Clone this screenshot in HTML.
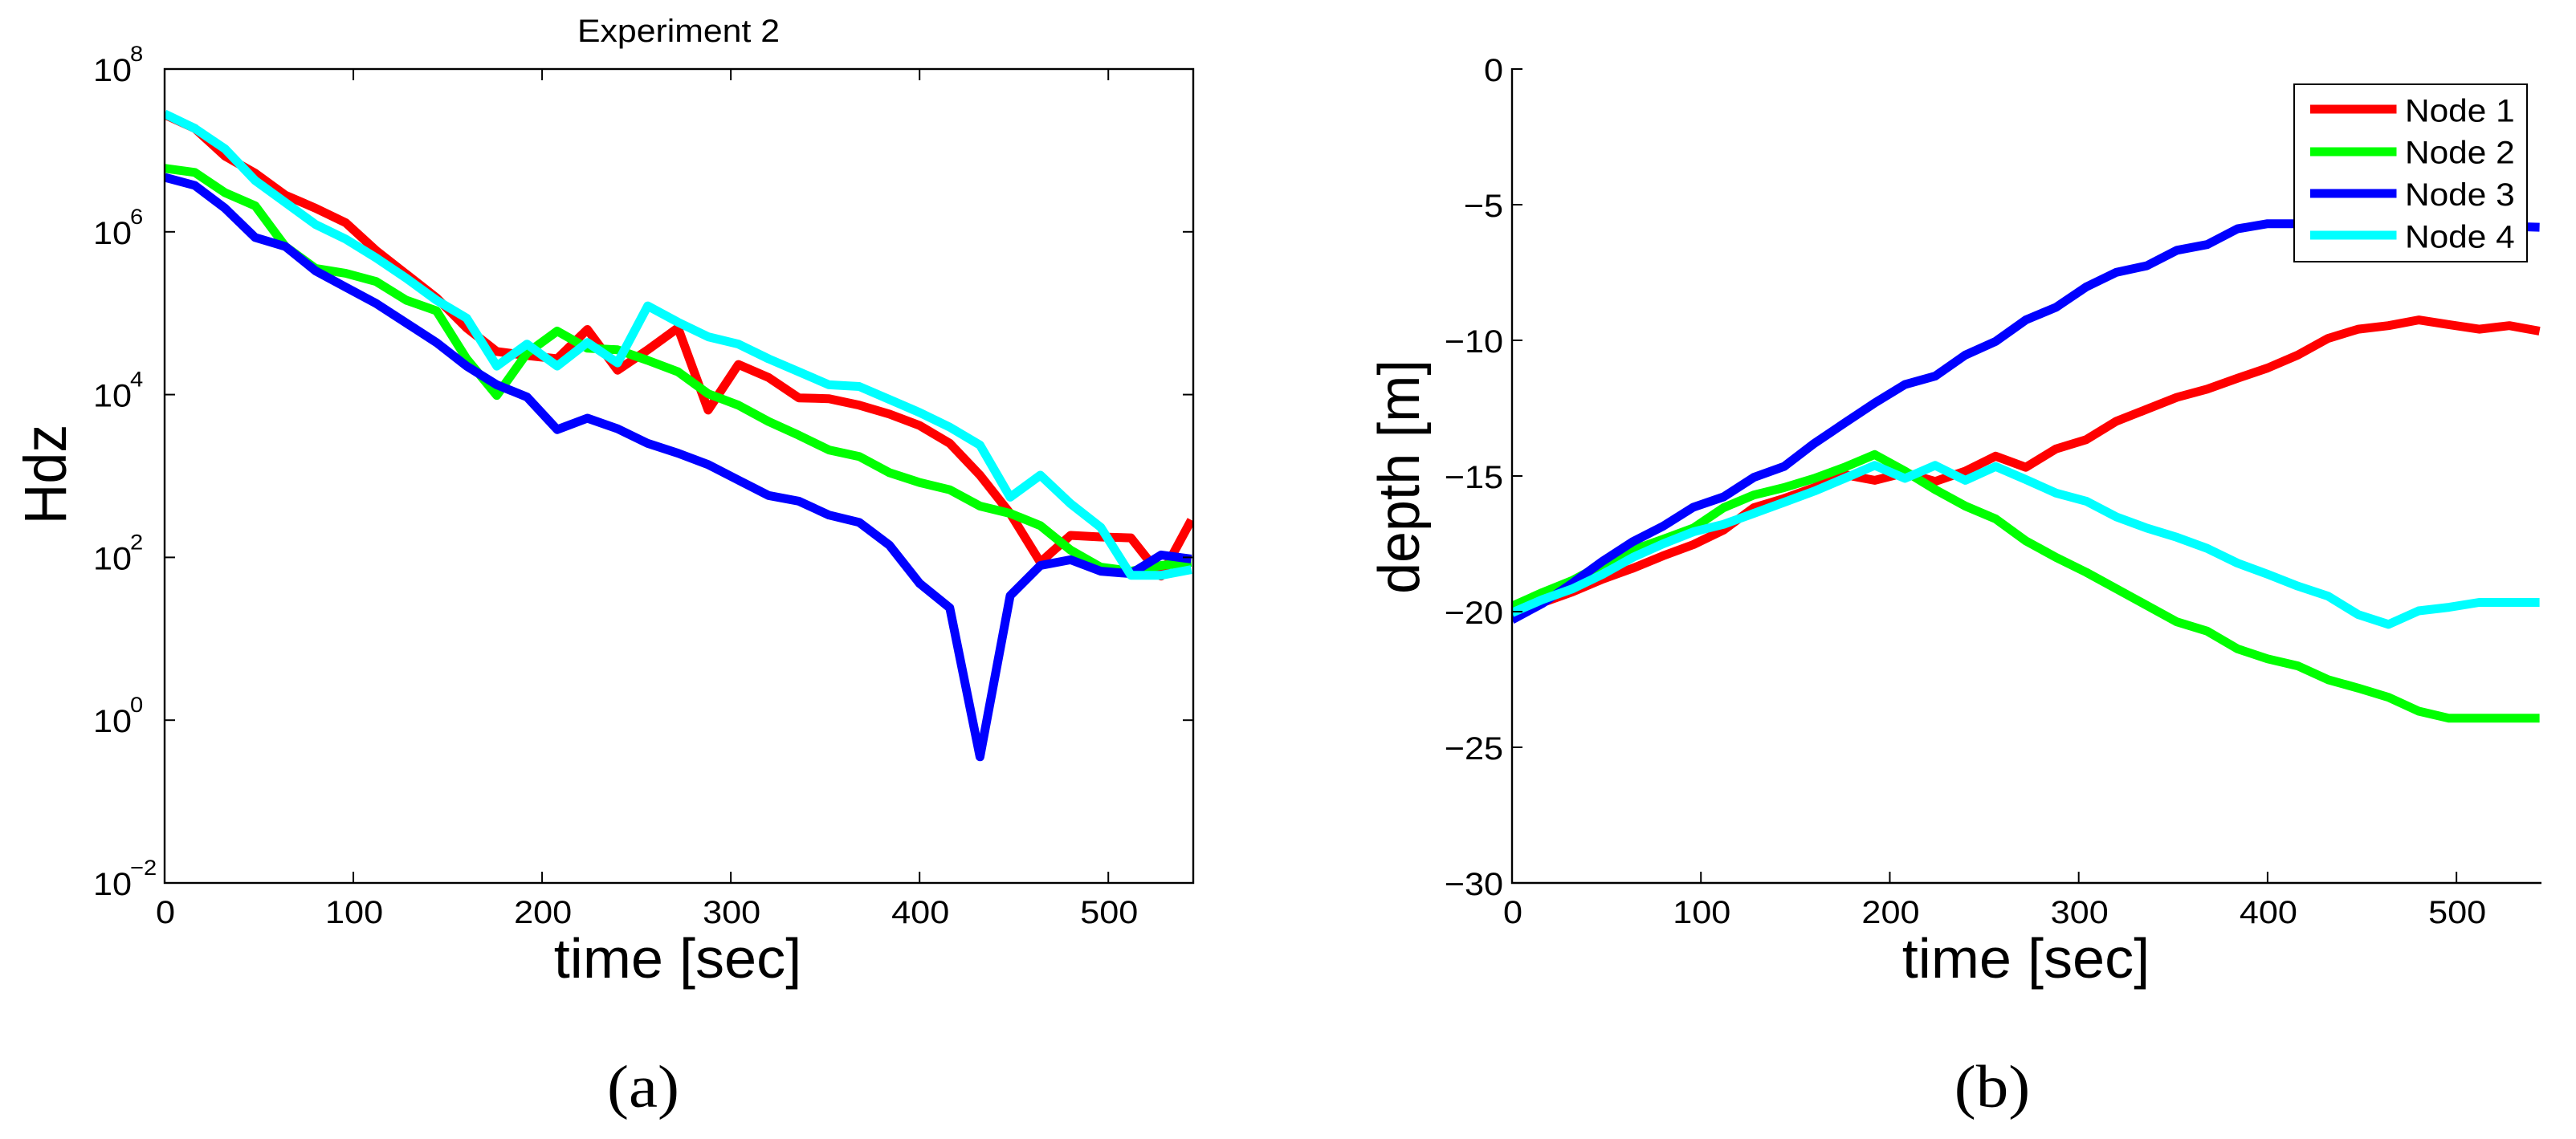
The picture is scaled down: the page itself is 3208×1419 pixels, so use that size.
<!DOCTYPE html>
<html lang="en">
<head>
<meta charset="utf-8">
<title>Experiment 2 - Hdz and depth</title>
<style>
html,body{margin:0;padding:0;background:#fff;}
svg{display:block;}
text{font-family:"Liberation Sans",sans-serif;fill:#000;}
.serif{font-family:"Liberation Serif",serif;}
</style>
</head>
<body>
<svg id="fig" xmlns="http://www.w3.org/2000/svg" width="3208" height="1419" viewBox="0 0 3208 1419">
  <rect width="3208" height="1419" fill="#fff"/>
  <defs>
    <clipPath id="clipA"><rect x="205" y="86" width="1281" height="1014"/></clipPath>
    <clipPath id="clipB"><rect x="1883" y="86" width="1282" height="1014"/></clipPath>
  </defs>
  <g id="panelA">
    <g id="linesA" clip-path="url(#clipA)"></g>
    <rect x="205" y="86" width="1281" height="1014" fill="none" stroke="#000" stroke-width="2.4"/>
    <g id="ticksA"></g>
    <text transform="translate(845,52) scale(1.07,1)" text-anchor="middle" font-size="40">Experiment 2</text>
    <text transform="translate(82,591) scale(1.06,1) rotate(-90)" text-anchor="middle" font-size="70">Hdz</text>
    <text transform="translate(844,1218) scale(1.03,1)" text-anchor="middle" font-size="70">time [sec]</text>
    <text class="serif" transform="translate(801,1379) scale(1.08,1)" text-anchor="middle" font-size="75">(a)</text>
  </g>
  <g id="panelB">
    <g id="linesB" clip-path="url(#clipB)"></g>
    <line x1="1883" y1="85" x2="1883" y2="1101" stroke="#000" stroke-width="2.4"/>
    <line x1="1882" y1="1100" x2="3165" y2="1100" stroke="#000" stroke-width="2.4"/>
    <g id="ticksB"></g>
    <text transform="translate(1767,594) scale(1.04,1) rotate(-90)" text-anchor="middle" font-size="70">depth [m]</text>
    <text transform="translate(2523,1218) scale(1.03,1)" text-anchor="middle" font-size="70">time [sec]</text>
    <text class="serif" transform="translate(2481,1379) scale(1.08,1)" text-anchor="middle" font-size="75">(b)</text>
    <g>
      <rect x="2857" y="105" width="290" height="221" fill="#fff" stroke="#000" stroke-width="2"/>
      <g>
        <line x1="2877" y1="136" x2="2984.5" y2="136" stroke="#ff0000" stroke-width="11"/>
        <text transform="translate(2995,151.5) scale(1.06,1)" font-size="40">Node 1</text>
      </g>
      <g>
        <line x1="2877" y1="189" x2="2984.5" y2="189" stroke="#00ff00" stroke-width="11"/>
        <text transform="translate(2995,203.5) scale(1.06,1)" font-size="40">Node 2</text>
      </g>
      <g>
        <line x1="2877" y1="241" x2="2984.5" y2="241" stroke="#0000ff" stroke-width="11"/>
        <text transform="translate(2995,256) scale(1.06,1)" font-size="40">Node 3</text>
      </g>
      <g>
        <line x1="2877" y1="293" x2="2984.5" y2="293" stroke="#00ffff" stroke-width="11"/>
        <text transform="translate(2995,308.5) scale(1.06,1)" font-size="40">Node 4</text>
      </g>
    </g>
  </g>
</svg>
<script>
// Shared time base (seconds)
const timeSec = [0,16,32,48,64,80,96,112,128,144,160,176,192,208,224,240,256,272,288,304,320,336,352,368,384,400,416,432,448,464,480,496,512,528,544];

// Panel (a): log10(Hdz) for each node
const hdzLogNode1 = [7.44,7.27,6.93,6.72,6.45,6.29,6.11,5.77,5.48,5.19,4.82,4.53,4.48,4.44,4.80,4.30,4.55,4.82,3.81,4.37,4.21,3.96,3.95,3.87,3.76,3.62,3.40,3.01,2.54,1.94,2.27,2.25,2.24,1.77,2.46];
const hdzLogNode2 = [6.78,6.73,6.48,6.32,5.82,5.55,5.49,5.39,5.16,5.03,4.44,3.99,4.51,4.78,4.57,4.55,4.42,4.28,4.01,3.87,3.67,3.50,3.32,3.24,3.04,2.92,2.83,2.63,2.54,2.39,2.09,1.88,1.83,1.90,1.94];
const hdzLogNode3 = [6.67,6.57,6.29,5.93,5.82,5.52,5.32,5.12,4.88,4.64,4.35,4.12,3.97,3.57,3.71,3.58,3.40,3.28,3.14,2.95,2.76,2.69,2.52,2.43,2.15,1.68,1.38,-0.45,1.53,1.90,1.97,1.83,1.80,2.03,1.98];
const hdzLogNode4 = [7.45,7.27,7.02,6.63,6.36,6.09,5.91,5.68,5.43,5.16,4.94,4.35,4.62,4.35,4.64,4.39,5.09,4.89,4.71,4.62,4.44,4.28,4.12,4.10,3.94,3.78,3.60,3.38,2.74,3.01,2.66,2.37,1.78,1.78,1.85];

// Panel (b): depth in metres for each node
const depthNode1 = [-20.0,-19.67,-19.27,-18.8,-18.4,-17.94,-17.53,-16.99,-16.17,-15.83,-15.43,-14.95,-15.16,-14.88,-15.2,-14.82,-14.27,-14.68,-14.0,-13.66,-12.98,-12.54,-12.1,-11.8,-11.4,-11.02,-10.54,-9.93,-9.59,-9.46,-9.25,-9.42,-9.59,-9.46,-9.66];
const depthNode2 = [-19.8,-19.3,-18.85,-18.25,-17.73,-17.33,-16.92,-16.17,-15.7,-15.43,-15.09,-14.68,-14.21,-14.82,-15.5,-16.11,-16.58,-17.39,-18.0,-18.55,-19.16,-19.77,-20.38,-20.72,-21.37,-21.74,-22.0,-22.51,-22.82,-23.16,-23.67,-23.93,-23.93,-23.93,-23.93];
const depthNode3 = [-20.3,-19.7,-18.95,-18.14,-17.42,-16.85,-16.15,-15.77,-15.05,-14.65,-13.8,-13.05,-12.31,-11.63,-11.32,-10.54,-10.04,-9.25,-8.78,-8.03,-7.49,-7.25,-6.68,-6.47,-5.89,-5.7,-5.7,-5.7,-5.7,-5.72,-5.75,-5.75,-5.78,-5.8,-5.83];
const depthNode4 = [-20.04,-19.56,-19.16,-18.62,-18.0,-17.5,-17.06,-16.78,-16.38,-15.97,-15.56,-15.09,-14.61,-15.09,-14.61,-15.16,-14.65,-15.13,-15.63,-15.93,-16.51,-16.92,-17.26,-17.67,-18.21,-18.62,-19.06,-19.43,-20.11,-20.47,-19.97,-19.84,-19.66,-19.66,-19.66];

// Tick labels
const xTicks = [0,100,200,300,400,500];
const hdzTickExponents = [8,6,4,2,0,-2];
const depthTicks = [0,-5,-10,-15,-20,-25,-30];

// Axis functions
const NS = 'http://www.w3.org/2000/svg';
const xMax = 545;
const xA = t => 205 + t * (1486 - 205) / xMax;
const xB = t => 1883 + t * (3165 - 1883) / xMax;
const yA = e => 86 + (8 - e) * (1100 - 86) / 10;
const yB = d => 86 + (0 - d) * (1100 - 86) / 30;
const fmt = v => String(v).replace('-', '\u2212');

function svgEl(tag, attrs) {
  const node = document.createElementNS(NS, tag);
  for (const k in attrs) node.setAttribute(k, attrs[k]);
  return node;
}

function addLine(parent, xs, ys, color, fx, fy, label) {
  let d = '';
  xs.forEach((x, i) => { d += (i ? 'L' : 'M') + fx(x).toFixed(1) + ' ' + fy(ys[i]).toFixed(1); });
  const el = svgEl('path', {d: d, fill: 'none', stroke: color, 'stroke-width': 11, 'stroke-linejoin': 'round', 'stroke-linecap': 'butt'});
  
  
  parent.appendChild(el);
}

const linesA = document.getElementById('linesA');
addLine(linesA, timeSec, hdzLogNode1, '#ff0000', xA, yA, 'hdz-line-node-1');
addLine(linesA, timeSec, hdzLogNode2, '#00ff00', xA, yA, 'hdz-line-node-2');
addLine(linesA, timeSec, hdzLogNode3, '#0000ff', xA, yA, 'hdz-line-node-3');
addLine(linesA, timeSec, hdzLogNode4, '#00ffff', xA, yA, 'hdz-line-node-4');

const linesB = document.getElementById('linesB');
addLine(linesB, timeSec, depthNode1, '#ff0000', xB, yB, 'depth-line-node-1');
addLine(linesB, timeSec, depthNode2, '#00ff00', xB, yB, 'depth-line-node-2');
addLine(linesB, timeSec, depthNode3, '#0000ff', xB, yB, 'depth-line-node-3');
addLine(linesB, timeSec, depthNode4, '#00ffff', xB, yB, 'depth-line-node-4');

function addTick(parent, x1, y1, x2, y2) {
  const el = svgEl('line', {x1: x1, y1: y1, x2: x2, y2: y2, stroke: '#000', 'stroke-width': 2});
  
  
  parent.appendChild(el);
}

function addLabel(parent, x, y, str, size, anchor) {
  const el = svgEl('text', {transform: 'translate(' + x + ',' + y + ') scale(1.08,1)', 'font-size': size, 'text-anchor': anchor});
  el.textContent = str;
  
  
  parent.appendChild(el);
}

const ticksA = document.getElementById('ticksA');
xTicks.forEach(t => {
  const x = xA(t);
  if (t !== 0) {
    addTick(ticksA, x, 1100, x, 1086);
    addTick(ticksA, x, 86, x, 100);
  }
  addLabel(ticksA, x + 1, 1150, String(t), 40, 'middle');
});
hdzTickExponents.forEach(e => {
  const y = yA(e);
  if (e !== 8 && e !== -2) {
    addTick(ticksA, 205, y, 218, y);
    addTick(ticksA, 1486, y, 1473, y);
  }
  addLabel(ticksA, 116, y + 15, '10', 40, 'start');
  addLabel(ticksA, 162, y - 10, fmt(e), 27, 'start');
});

const ticksB = document.getElementById('ticksB');
xTicks.forEach(t => {
  const x = xB(t);
  if (t !== 0) addTick(ticksB, x, 1100, x, 1086);
  addLabel(ticksB, x + 1, 1150, String(t), 40, 'middle');
});
depthTicks.forEach(d => {
  const y = yB(d);
  if (d !== -30) addTick(ticksB, 1883, y, 1896, y);
  addLabel(ticksB, 1872, y + 15, fmt(d), 40, 'end');
});
</script>
</body>
</html>
